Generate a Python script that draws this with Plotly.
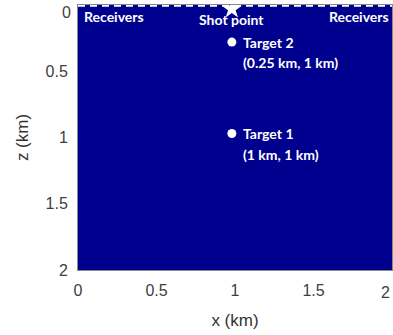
import plotly.graph_objects as go

# Data
receiver_x = [0.0, 2.0]
receiver_z = [0.004, 0.004]
shot_x = [0.98]
shot_z = [0.03]
target_x = [0.98, 0.98]
target_z = [0.28, 0.97]
target_names = ["Target 2", "Target 1"]
target_coords = ["(0.25 km, 1 km)", "(1 km, 1 km)"]
x_ticks = [0, 0.5, 1, 1.5, 2]
z_ticks = [0, 0.5, 1, 1.5, 2]
tick_text = ["0", "0.5", "1", "1.5", "2"]

navy = "#00008F"
txtfont = dict(family="Lato, Open Sans, sans-serif", size=14, color="white")
axfont = "Liberation Sans, Arial, sans-serif"
tickfont = dict(family=axfont, size=16, color="#404040")

fig = go.Figure()
fig.add_trace(go.Scatter(x=receiver_x, y=receiver_z, mode="lines",
                         line=dict(color="white", width=2.5, dash="7px,5px"),
                         hoverinfo="skip", showlegend=False, cliponaxis=False))
fig.add_trace(go.Scatter(x=shot_x, y=shot_z, mode="markers",
                         marker=dict(symbol="star", color="white", size=15,
                                     line=dict(width=0)),
                         showlegend=False, cliponaxis=False))
fig.add_trace(go.Scatter(x=target_x, y=target_z, mode="markers",
                         marker=dict(symbol="circle", color="white", size=9,
                                     line=dict(width=0)),
                         showlegend=False))

ann = []
ann.append(dict(x=0.025, y=0.09, text="<b>Receivers</b>", xanchor="left", yanchor="middle"))
ann.append(dict(x=1.995, y=0.083, text="<b>Receivers</b>", xanchor="right", yanchor="middle"))
ann.append(dict(x=0.98, y=0.113, text="<b>Shot point</b>", xanchor="center", yanchor="middle"))
for tx, tz, name, coord in zip(target_x, target_z, target_names, target_coords):
    ann.append(dict(x=tx + 0.06, y=tz, text="<b>" + name + "</b>", xanchor="left", yanchor="middle"))
    ann.append(dict(x=tx + 0.06, y=tz + 0.155, text="<b>" + coord + "</b>", xanchor="left", yanchor="middle"))
for a in ann:
    a.update(xref="x", yref="y", showarrow=False, font=txtfont)

# end tick labels that plotly would drop at the page edges
ann.append(dict(xref="x", x=x_ticks[-1], yref="paper", y=0, yanchor="top", xanchor="right",
                xshift=0, yshift=-12, text=tick_text[-1], showarrow=False, font=tickfont))
ann.append(dict(xref="paper", x=0, xanchor="right", xshift=-5, yref="y", y=z_ticks[0] + 0.06,
                yanchor="middle", text=tick_text[0], showarrow=False, font=tickfont))

fig.update_layout(
    width=393, height=335,
    margin=dict(l=78, r=1, t=5, b=65),
    paper_bgcolor="white", plot_bgcolor=navy,
    annotations=ann,
    xaxis=dict(range=[0, 2], tickvals=x_ticks[:-1], ticktext=tick_text[:-1],
               showgrid=False, zeroline=False, showline=True, linecolor="#888888", linewidth=1,
               mirror=True, ticks="", tickfont=tickfont, ticklabelstandoff=6,
               title=dict(text="x (km)", font=dict(family=axfont, size=17, color="#333333"), standoff=15)),
    yaxis=dict(range=[2, 0], tickvals=z_ticks[1:], ticktext=tick_text[1:],
               showgrid=False, zeroline=False, showline=True, linecolor="#888888", linewidth=1,
               mirror=True, ticks="", tickfont=tickfont, ticklabelstandoff=6,
               title=dict(text="z (km)", font=dict(family=axfont, size=17, color="#333333"), standoff=12)),
)

fig.write_html("out.html")
